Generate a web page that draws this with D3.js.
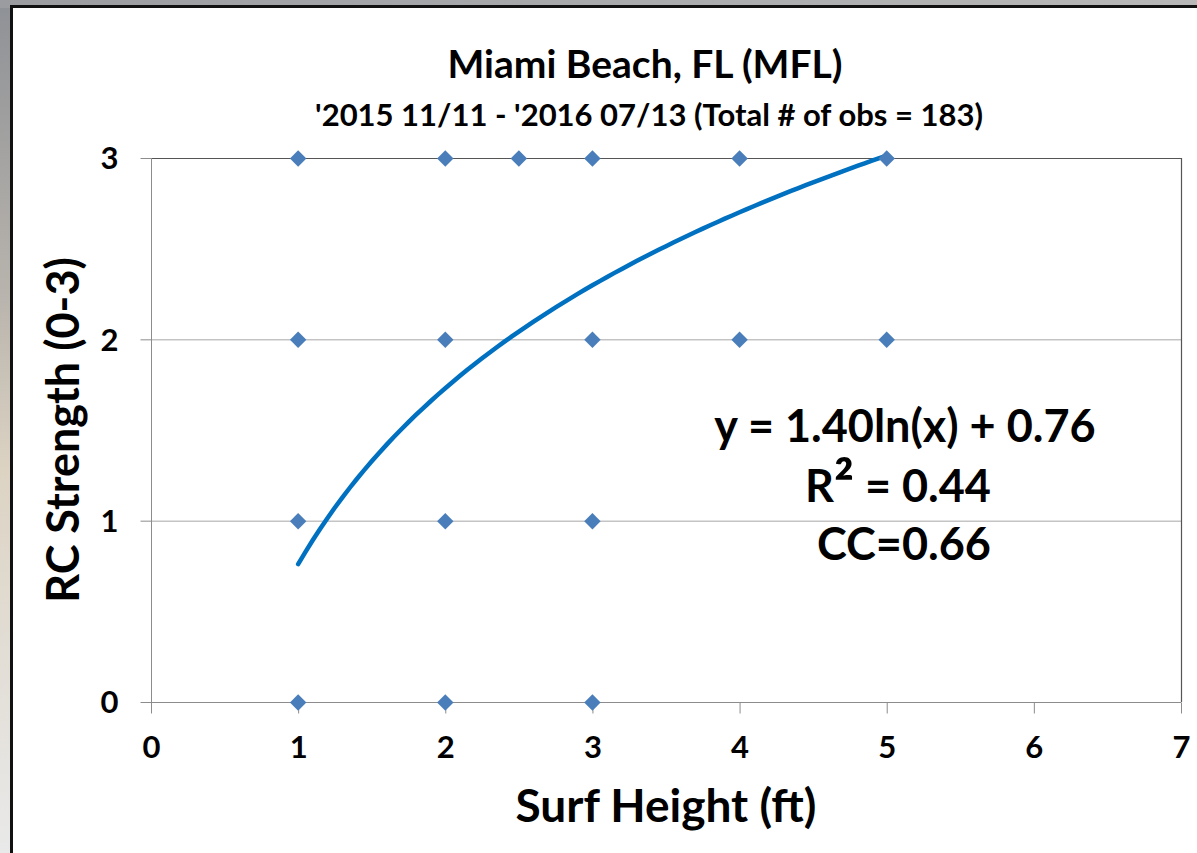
<!DOCTYPE html>
<html>
<head>
<meta charset="utf-8">
<script src="https://cdn.jsdelivr.net/npm/d3@7"></script>
<style>
  body { margin: 0; background: #fff; }
  svg { display: block; }
  text { font-family: Lato, "Open Sans", sans-serif; font-weight: bold; fill: #000; }
</style>
</head>
<body>
<script>
// DATA
var obsX = [1, 2, 2.5, 3, 4, 5, 1, 2, 3, 4, 5, 1, 2, 3, 1, 2, 3];
var obsY = [3, 3, 3, 3, 3, 3, 2, 2, 2, 2, 2, 1, 1, 1, 0, 0, 0];
var xTicks = [0, 1, 2, 3, 4, 5, 6, 7];
var yTicks = [0, 1, 2, 3];
// trendline y = a ln(x) + b, drawn over the observed x range
var trendCoef = [1.40, 0.76];
var trendRange = [1, 5];

var W = 1197, H = 853;
var plotL = 151, plotR = 1181, plotT = 158, plotB = 702;

var svg = d3.select("body").append("svg")
    .attr("width", W)
    .attr("height", H);

// BACKGROUND (slide behind the chart)
var defs = svg.append("defs");
var g1 = defs.append("linearGradient").attr("id", "side").attr("x1", 0).attr("y1", 0).attr("x2", 0).attr("y2", 1);
g1.append("stop").attr("offset", "0").attr("stop-color", "#8e9196");
g1.append("stop").attr("offset", "0.35").attr("stop-color", "#b9b4ad");
g1.append("stop").attr("offset", "0.55").attr("stop-color", "#dcd3c3");
g1.append("stop").attr("offset", "1").attr("stop-color", "#e9e9e9");
svg.append("rect").attr("width", W).attr("height", H).attr("fill", "url(#side)");
var g2 = defs.append("linearGradient").attr("id", "topbar").attr("x1", 0).attr("y1", 0).attr("x2", 1).attr("y2", 0);
g2.append("stop").attr("offset", "0").attr("stop-color", "#9a9ca0");
g2.append("stop").attr("offset", "1").attr("stop-color", "#b8b8b8");
svg.append("rect").attr("width", W).attr("height", 8).attr("fill", "url(#topbar)");

// chart panel
svg.append("rect")
    .attr("x", 11.5).attr("y", 6.5)
    .attr("width", W).attr("height", H)
    .attr("fill", "#fff")
    .attr("stroke", "#111")
    .attr("stroke-width", 3);

// SCALES
var x = d3.scaleLinear().domain([0, 7]).range([plotL, plotR]);
var y = d3.scaleLinear().domain([0, 3]).range([plotB, plotT]);

// GRIDLINES
svg.append("g")
    .selectAll("line")
    .data(yTicks.filter(function(d) { return d > 0 && d < 3; }))
    .enter().append("line")
        .attr("x1", plotL).attr("x2", plotR)
        .attr("y1", function(d) { return y(d) + 0.5; })
        .attr("y2", function(d) { return y(d) + 0.5; })
        .attr("stroke", "#a6a6a6");

// frame top + right
svg.append("path")
    .attr("d", "M" + plotL + "," + (plotT + 0.5) + "H" + (plotR + 0.5) + "V" + plotB)
    .attr("fill", "none")
    .attr("stroke", "#555")
    .attr("stroke-width", 1.2);

// AXES
var xAxis = d3.axisBottom(x).tickValues(xTicks).tickSize(11).tickPadding(22).tickFormat(d3.format("d"));
var yAxis = d3.axisLeft(y).tickValues(yTicks).tickSize(11).tickPadding(22).tickFormat(d3.format("d"));

var gx = svg.append("g")
    .attr("transform", "translate(0," + (plotB + 0.5) + ")")
    .call(xAxis);
var gy = svg.append("g")
    .attr("transform", "translate(" + (plotL + 0.5) + ",0)")
    .call(yAxis);

[gx, gy].forEach(function(g) {
    g.select(".domain").attr("stroke", "#8c8c8c");
    g.selectAll(".tick line").attr("stroke", "#8c8c8c");
    g.selectAll("text")
        .style("font-size", "31px")
        .style("font-family", "Lato, 'Open Sans', sans-serif")
        .style("font-weight", "bold")
        .attr("fill", "#000");
});
gy.select(".domain").attr("d", "M0," + plotB + "V" + plotT);
gx.select(".domain").attr("d", "M" + plotL + ",0H" + plotR);
gy.selectAll("text").attr("dy", "0.35em");
gx.selectAll("text").attr("dy", "0.71em");

// TRENDLINE
var trendX = d3.range(trendRange[0], trendRange[1] + 0.001, 0.05);
var line = d3.line()
    .x(function(d) { return x(d); })
    .y(function(d) { return y(trendCoef[0] * Math.log(d) + trendCoef[1]); });

svg.append("path")
    .datum(trendX)
    .attr("d", line)
    .attr("fill", "none")
    .attr("stroke", "#0070c0")
    .attr("stroke-width", 4.5)
    .attr("stroke-linecap", "round");

// POINTS
var diamond = d3.symbol().type(d3.symbolSquare).size(135);
svg.append("g")
    .selectAll("path")
    .data(obsX)
    .enter().append("path")
        .attr("d", diamond)
        .attr("transform", function(d, i) {
            return "translate(" + x(d) + "," + (y(obsY[i]) + 0.5) + ") rotate(45)";
        })
        .attr("fill", "#4a7ebb");

// TEXT
svg.append("text")
    .attr("x", 645).attr("y", 78)
    .attr("text-anchor", "middle")
    .style("font-size", "39px")
    .text("Miami Beach, FL (MFL)");

svg.append("text")
    .attr("x", 649).attr("y", 126)
    .attr("text-anchor", "middle")
    .style("font-size", "31px")
    .text("'2015 11/11 - '2016 07/13 (Total # of obs = 183)");

var fit = svg.append("g").attr("text-anchor", "middle");
fit.append("text").attr("x", 905).attr("y", 442).style("font-size", "45px").text("y = 1.40ln(x) + 0.76");
var r2 = fit.append("text").attr("x", 898).attr("y", 502).style("font-size", "45px");
r2.append("tspan").text("R");
r2.append("tspan").attr("dy", 5).style("font-size", "60px").text("²");
r2.append("tspan").attr("dy", -5).text(" = 0.44");
fit.append("text").attr("x", 904).attr("y", 560).style("font-size", "45px").text("CC=0.66");

svg.append("text")
    .attr("transform", "translate(79,430) rotate(-90)")
    .attr("text-anchor", "middle")
    .style("font-size", "45px")
    .text("RC Strength (0-3)");

svg.append("text")
    .attr("x", 666).attr("y", 822)
    .attr("text-anchor", "middle")
    .style("font-size", "46px")
    .text("Surf Height (ft)");
</script>
</body>
</html>
